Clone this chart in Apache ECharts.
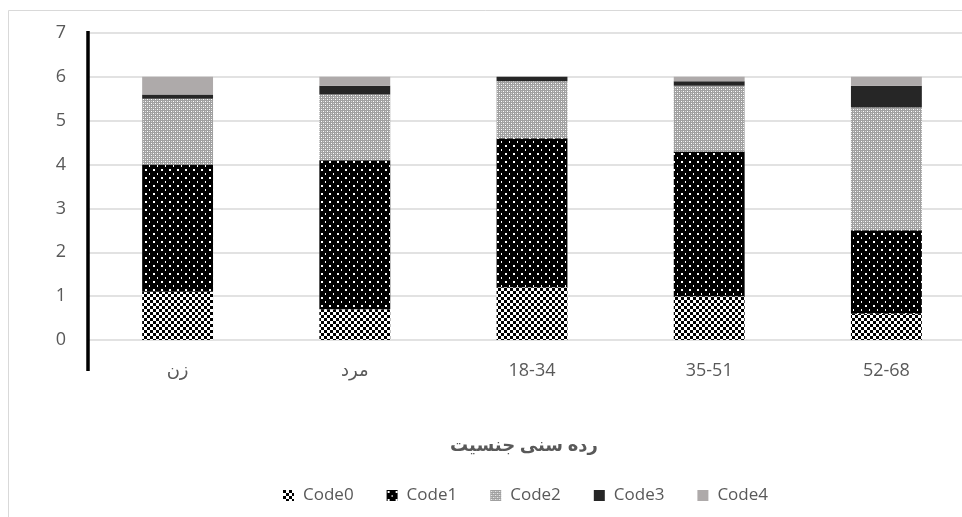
<!DOCTYPE html>
<html>
<head>
<meta charset="utf-8">
<script src="https://cdn.jsdelivr.net/npm/echarts@6/dist/echarts.min.js"></script>
<style>
html,body{margin:0;padding:0;background:#fff;}
#chart{width:962px;height:517px;}
</style>
</head>
<body>
<div id="chart"></div>
<script>
var categories = ['زن', 'مرد', '18-34', '35-51', '52-68'];
var seriesNames = ['Code0', 'Code1', 'Code2', 'Code3', 'Code4'];
var code0 = [1.1, 0.7, 1.2, 1.0, 0.6];
var code1 = [2.9, 3.4, 3.4, 3.3, 1.9];
var code2 = [1.5, 1.5, 1.3, 1.5, 2.8];
var code3 = [0.1, 0.2, 0.1, 0.1, 0.5];
var code4 = [0.4, 0.2, 0.0, 0.1, 0.2];
var yTicks = [0, 1, 2, 3, 4, 5, 6, 7];
var axisTitle = 'رده سنی جنسیت';

function makeTile(w, h, draw) {
  var c = document.createElement('canvas');
  c.width = w; c.height = h;
  var ctx = c.getContext('2d');
  draw(ctx);
  return c;
}
var pat0 = makeTile(6, 6, function (ctx) {
  ctx.fillStyle = '#ffffff'; ctx.fillRect(0, 0, 6, 6);
  ctx.fillStyle = '#000000'; ctx.fillRect(0, 0, 3, 3); ctx.fillRect(3, 3, 3, 3);
});
var pat1 = makeTile(8, 8, function (ctx) {
  ctx.fillStyle = '#000000'; ctx.fillRect(0, 0, 8, 8);
  ctx.fillStyle = '#ffffff'; ctx.fillRect(1, 1, 2, 2); ctx.fillRect(5, 5, 1, 2);
});
var pat2 = makeTile(4, 4, function (ctx) {
  ctx.fillStyle = '#a0a0a0'; ctx.fillRect(0, 0, 4, 4);
  ctx.fillStyle = '#ffffff'; ctx.fillRect(1, 1, 1, 1); ctx.fillRect(3, 3, 1, 1);
  ctx.fillStyle = '#d0d0d0'; ctx.fillRect(1, 3, 1, 1); ctx.fillRect(3, 1, 1, 1);
});
var fills = [
  { image: pat0, repeat: 'repeat' },
  { image: pat1, repeat: 'repeat' },
  { image: pat2, repeat: 'repeat' },
  '#262626',
  '#aeaaaa'
];
var values = [code0, code1, code2, code3, code4];

var FONT = "'Open Sans', 'DejaVu Sans', sans-serif";
var chart = echarts.init(document.getElementById('chart'));
var option = {
  animation: false,
  backgroundColor: '#ffffff',
  textStyle: { fontFamily: FONT },
  title: {
    text: axisTitle,
    left: 519,
    top: 432,
    textAlign: 'center',
    textStyle: { fontFamily: FONT, fontSize: 18, fontWeight: 'bold', color: '#595959' }
  },
  legend: {
    data: seriesNames.map(function (n) { return { name: n, icon: 'rect' }; }),
    left: 278,
    top: 482,
    itemWidth: 11,
    itemHeight: 11,
    itemGap: 33,
    textStyle: { fontFamily: FONT, fontSize: 17, color: '#595959', padding: [0, 0, 0, 4] }
  },
  grid: { left: 89, width: 886, top: 33, height: 307, containLabel: false, outerBoundsMode: 'none' },
  xAxis: {
    type: 'category',
    data: categories,
    axisLine: { show: false },
    axisTick: { show: false },
    axisLabel: { fontFamily: FONT, fontSize: 18, color: '#595959', margin: 22 }
  },
  yAxis: {
    type: 'value',
    min: yTicks[0],
    max: yTicks[yTicks.length - 1],
    interval: 1,
    axisLine: { show: false },
    axisTick: { show: false },
    axisLabel: { fontFamily: FONT, fontSize: 18, color: '#595959', margin: 23 },
    splitLine: { show: true, lineStyle: { color: '#d9d9d9', width: 1.5 } }
  },
  series: seriesNames.map(function (name, i) {
    return {
      name: name,
      type: 'bar',
      stack: 'total',
      barWidth: '40%',
      data: values[i],
      itemStyle: { color: fills[i] }
    };
  })
};
chart.setOption(option);

var top7 = chart.convertToPixel({ yAxisIndex: 0 }, yTicks[yTicks.length - 1]);
var base0 = chart.convertToPixel({ yAxisIndex: 0 }, 0);
var band = chart.getModel().getComponent('xAxis', 0).axis.getBandWidth();
var axisX = chart.convertToPixel({ xAxisIndex: 0 }, categories[0]) - band / 2 - 1;
chart.setOption({
  graphic: [
    {
      type: 'rect',
      silent: true,
      z: -10,
      shape: { x: 8.5, y: 10.5, width: 1000, height: 600 },
      style: { fill: 'none', stroke: '#d9d9d9', lineWidth: 1 }
    },
    {
      type: 'line',
      silent: true,
      z: 100,
      shape: { x1: axisX, y1: top7 - 2, x2: axisX, y2: base0 + 31 },
      style: { stroke: '#000000', lineWidth: 3.5 }
    }
  ]
});
</script>
</body>
</html>
